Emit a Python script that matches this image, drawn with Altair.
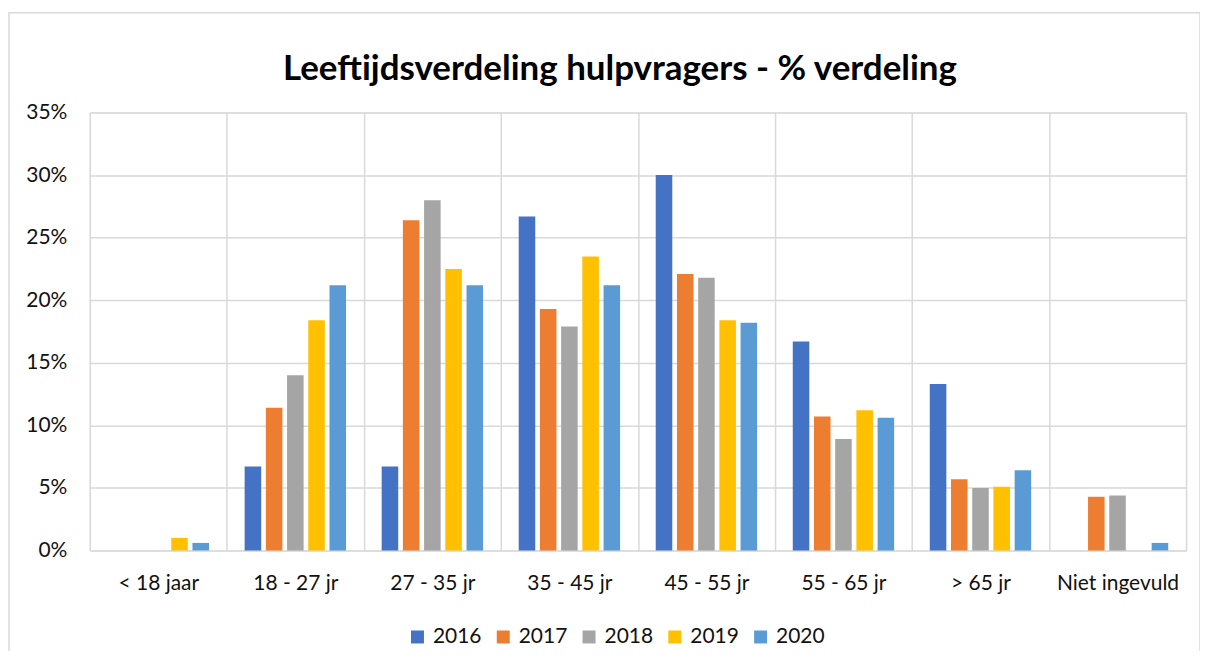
import altair as alt
import pandas as pd

categories = ["< 18 jaar", "18 - 27 jr", "27 - 35 jr", "35 - 45 jr",
              "45 - 55 jr", "55 - 65 jr", "> 65 jr", "Niet ingevuld"]
years = ["2016", "2017", "2018", "2019", "2020"]
colors = ["#4472C4", "#ED7D31", "#A5A5A5", "#FFC000", "#5B9BD5"]

v2016 = [0.0, 6.7, 6.7, 26.7, 30.0, 16.7, 13.3, 0.0]
v2017 = [0.0, 11.4, 26.4, 19.3, 22.1, 10.7, 5.7, 4.3]
v2018 = [0.0, 14.0, 28.0, 17.9, 21.8, 8.9, 5.0, 4.4]
v2019 = [1.0, 18.4, 22.5, 23.5, 18.4, 11.2, 5.1, 0.0]
v2020 = [0.6, 21.2, 21.2, 21.2, 18.2, 10.6, 6.4, 0.6]
series = [v2016, v2017, v2018, v2019, v2020]

rows = []
for y, vals in zip(years, series):
    for c, v in zip(categories, vals):
        rows.append({"categorie": c, "jaar": y, "waarde": v})
df = pd.DataFrame(rows)

FONT = "Lato"
TXT = "#111111"
GRID = "#d9d9d9"

bars = alt.Chart(df).mark_bar().encode(
    x=alt.X("categorie:N", sort=categories,
            scale=alt.Scale(paddingInner=0, paddingOuter=0),
            axis=alt.Axis(title=None, labelAngle=0, ticks=False, domain=False,
                          grid=True, tickBand="extent", gridColor=GRID,
                          gridWidth=1.5, labelFontSize=21, labelFont=FONT,
                          labelColor=TXT, labelPadding=22)),
    xOffset=alt.XOffset("jaar:N", sort=years,
                        scale=alt.Scale(paddingInner=0.22, paddingOuter=0.84)),
    y=alt.Y("waarde:Q",
            scale=alt.Scale(domain=[0, 35], nice=False),
            axis=alt.Axis(title=None, values=[0, 5, 10, 15, 20, 25, 30, 35],
                          labelExpr="datum.value + '%'", ticks=False,
                          domain=False, gridColor=GRID, gridWidth=1.5,
                          labelFontSize=21, labelFont=FONT, labelColor=TXT,
                          labelPadding=23)),
    color=alt.Color("jaar:N", sort=years,
                    scale=alt.Scale(domain=years, range=colors),
                    legend=alt.Legend(title=None, orient="none",
                                      direction="horizontal",
                                      legendX=318, legendY=515,
                                      symbolType="square", symbolSize=169,
                                      symbolStrokeWidth=0,
                                      labelFontSize=21, labelFont=FONT,
                                      labelColor=TXT, labelOffset=5,
                                      columnPadding=11)),
)

border = alt.Chart(alt.Data(values=[{"a": 1}])).mark_rect(
    fill=None, stroke=GRID, strokeWidth=1.5
).encode(
    x=alt.value(-81), x2=alt.value(1113),
    y=alt.value(-100), y2=alt.value(580),
)

chart = alt.layer(border, bars).properties(
    width=1099, height=439,
    title=alt.TitleParams(
        "Leeftijdsverdeling hulpvragers - % verdeling",
        fontSize=35, font=FONT, fontWeight="bold", color="#000000",
        anchor="middle", frame="group", dx=-18, offset=30, dy=133,
        baseline="alphabetic",
    ),
    autosize=alt.AutoSizeParams(type="none"),
    padding={"left": 82, "top": 104, "right": 14, "bottom": 100},
).configure_view(stroke=GRID, strokeWidth=1.5).configure(background="white")

chart.save("out.html", embed_options={"renderer": "svg", "actions": False})
